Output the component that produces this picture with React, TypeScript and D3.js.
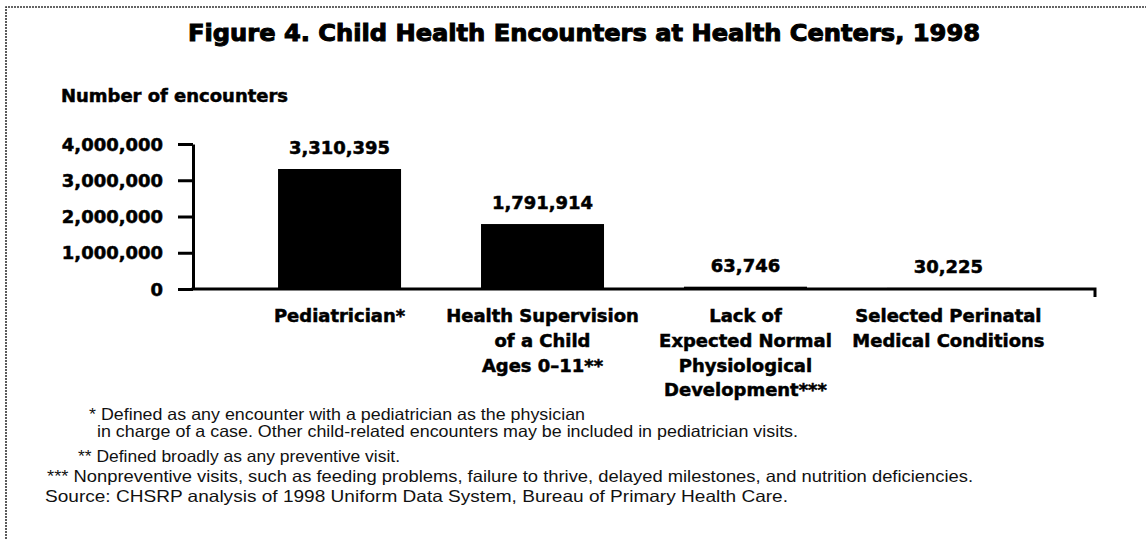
import React, { useEffect, useRef } from 'react';
import * as d3 from 'd3';

const categories = ['Pediatrician', 'Health Supervision', 'Lack of Expected', 'Selected Perinatal'];
const categoryLabels = [
  ['Pediatrician*'],
  ['Health Supervision', 'of a Child', 'Ages 0–11**'],
  ['Lack of', 'Expected Normal', 'Physiological', 'Development***'],
  ['Selected Perinatal', 'Medical Conditions'],
];
const encounters = [3310395, 1791914, 63746, 30225];
const yTicks = [0, 1000000, 2000000, 3000000, 4000000];
const titleText = 'Figure 4. Child Health Encounters at Health Centers, 1998';
const yAxisTitle = 'Number of encounters';
const footnotes = [
  '* Defined as any encounter with a pediatrician as the physician',
  'in charge of a case. Other child-related encounters may be included in pediatrician visits.',
  '** Defined broadly as any preventive visit.',
  '*** Nonpreventive visits, such as feeding problems, failure to thrive, delayed milestones, and nutrition deficiencies.',
  'Source: CHSRP analysis of 1998 Uniform Data System, Bureau of Primary Health Care.',
];

const W = 1146;
const H = 540;
const BOLD = "'DejaVu Sans', Roboto, sans-serif";
const REG = "'Liberation Sans', Arial, sans-serif";

function stretch(sel: any, k: number) {
  sel.each(function (this: SVGTextElement) {
    const L = this.getComputedTextLength();
    this.setAttribute('textLength', String(L * k));
    this.setAttribute('lengthAdjust', 'spacingAndGlyphs');
  });
}

export default function App() {
  const ref = useRef<SVGSVGElement>(null);

  useEffect(() => {
    const svg = d3.select(ref.current);
    svg.selectAll('*').remove();

    const x = d3.scaleBand<string>().domain(categories).range([193, 1095]).paddingInner(0.394).paddingOuter(0.419);
    const y = d3.scaleLinear().domain([0, 4000000]).range([289, 144]);

    const boldText = (g: any) =>
      g.attr('font-family', BOLD).attr('font-weight', 700).attr('font-size', 17)
        .attr('fill', '#000').attr('stroke', '#000').attr('stroke-width', 0.5);

    // frame
    svg.append('path')
      .attr('d', `M6,${H + 5}V7H${W + 5}`)
      .attr('fill', 'none')
      .attr('stroke', '#333')
      .attr('stroke-width', 1.6)
      .attr('stroke-dasharray', '2,1');

    // title
    svg.append('text')
      .attr('x', 584).attr('y', 41)
      .attr('text-anchor', 'middle')
      .attr('font-family', BOLD).attr('font-weight', 700).attr('font-size', 23)
      .attr('stroke', '#000').attr('stroke-width', 1)
      .attr('textLength', 792).attr('lengthAdjust', 'spacingAndGlyphs')
      .text(titleText);

    const yt = svg.append('text')
      .attr('x', 61).attr('y', 102)
      .call(boldText)
      .text(yAxisTitle);
    const K = 227 / (yt.node() as SVGTextElement).getComputedTextLength();
    stretch(yt, K);

    // bars
    svg.append('g').selectAll('rect').data(encounters).join('rect')
      .attr('x', (_, i) => x(categories[i])!)
      .attr('width', x.bandwidth())
      .attr('y', d => y(d))
      .attr('height', d => y(0) - y(d))
      .attr('fill', '#000');

    // value labels
    const vl = svg.append('g').selectAll('text').data(encounters).join('text')
      .attr('x', (_, i) => x(categories[i])! + x.bandwidth() / 2)
      .attr('y', d => y(d) - 15)
      .attr('text-anchor', 'middle')
      .call(boldText)
      .text(d => d3.format(',')(d));
    stretch(vl, K);

    // y axis
    const yAxis = d3.axisLeft(y).tickValues(yTicks).tickFormat(d3.format(',') as any)
      .tickSize(15).tickSizeOuter(0).tickPadding(15);
    const gy = svg.append('g').attr('transform', 'translate(193,0)').call(yAxis);
    gy.select('.domain').attr('stroke', '#000').attr('stroke-width', 3);
    gy.selectAll('.tick line').attr('stroke', '#000').attr('stroke-width', 3);
    const tl = gy.selectAll('.tick text').call(boldText).attr('dy', '0.36em');
    stretch(tl, K);

    // x axis baseline
    svg.append('path')
      .attr('d', `M${193 - 1.5},${y(0)}H1095V297`)
      .attr('fill', 'none').attr('stroke', '#000').attr('stroke-width', 3);

    // category labels
    const gc = svg.append('g');
    categoryLabels.forEach((lines, i) => {
      lines.forEach((ln, j) => {
        const t = gc.append('text')
          .attr('x', x(categories[i])! + x.bandwidth() / 2)
          .attr('y', 322 + j * 24.8)
          .attr('text-anchor', 'middle')
          .call(boldText)
          .text(ln);
        stretch(t, K);
      });
    });

    // footnotes
    const fx = [89, 97, 78, 47, 45];
    const fEnd = [585, 798, 400, 973, 788];
    const fy = [420, 437, 462, 482, 502];
    svg.append('g').selectAll('text').data(footnotes).join('text')
      .attr('x', (_, i) => fx[i]).attr('y', (_, i) => fy[i])
      .attr('font-family', REG).attr('font-size', 16.5)
      .attr('fill', '#111')
      .attr('textLength', (_, i) => fEnd[i] - fx[i])
      .attr('lengthAdjust', 'spacingAndGlyphs')
      .text(d => d);
  }, []);

  return (
    <svg ref={ref} width={W} height={H} style={{ position: 'absolute', left: 0, top: 0, background: '#fff' }} />
  );
}
